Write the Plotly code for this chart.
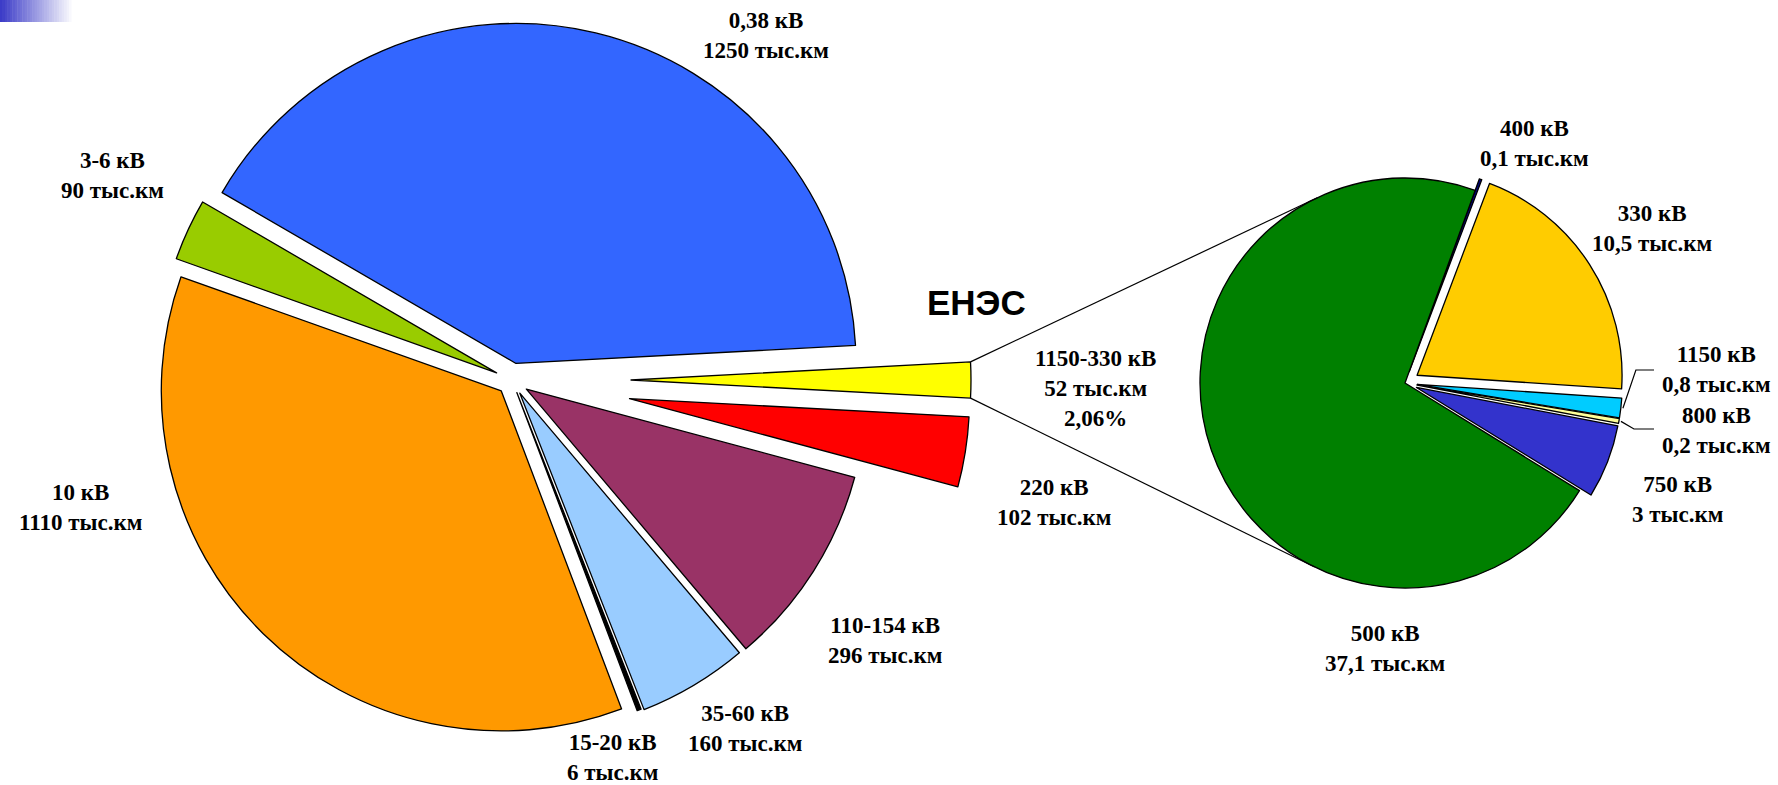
import math
import plotly.graph_objects as go

W, H = 1778, 785

# Протяжённость ЛЭП по классам напряжения, тыс. км
main_labels = ["0,38 кВ", "1150-330 кВ", "220 кВ", "110-154 кВ", "35-60 кВ", "15-20 кВ", "10 кВ", "3-6 кВ"]
main_values = [1250, 52, 102, 296, 160, 6, 1110, 90]
main_colors = ["#3366FF", "#FFFF00", "#FF0000", "#993366", "#99CCFF", "#000000", "#FF9900", "#99CC00"]
main_pull = [0.05, 0.35, 0.35, 0.05, 0.045, 0.04, 0.045, 0.05]

# Состав ЕНЭС (1150-330 кВ), тыс. км
enes_labels = ["400 кВ", "330 кВ", "1150 кВ", "800 кВ", "750 кВ", "500 кВ"]
enes_values = [0.1, 10.5, 0.8, 0.2, 3, 37.1]
enes_colors = ["#000080", "#FFCC00", "#00CCFF", "#FFFF99", "#3333CC", "#008000"]
enes_pull = [0.06, 0.07, 0.06, 0.06, 0.06, 0.0]
enes_share = "2,06%"

# ---- layout geometry (pixels) ----
MAIN_C, MAIN_R = (512, 380), 340
ENES_C, ENES_R = (1405, 383), 205
ENES_ROT = 20
ENES_IDX = 1  # slice of the main pie detailed by the second pie

label_pos = {
    "0,38 кВ": (766, 36), "1150-330 кВ": (1095, 388), "220 кВ": (1054, 502),
    "110-154 кВ": (885, 640), "35-60 кВ": (745, 728), "15-20 кВ": (612, 757),
    "10 кВ": (80, 507), "3-6 кВ": (112, 176),
    "400 кВ": (1534, 144), "330 кВ": (1652, 229), "1150 кВ": (1716, 369),
    "800 кВ": (1716, 430), "750 кВ": (1677, 499), "500 кВ": (1385, 648),
}
leader_labels = {"1150 кВ": 370, "800 кВ": 429}
LEADER_END_X = 1654

LABEL_FONT = dict(family="Liberation Serif", size=23, color="black", weight="bold")


def fmt(v):
    return f"{v:g}".replace(".", ",")


def polar(cx, cy, r, ang):
    a = math.radians(ang)
    return cx + r * math.sin(a), cy - r * math.cos(a)


def spans(values, rotation):
    tot = sum(values)
    a = rotation
    out = []
    for v in values:
        s = v / tot * 360.0
        out.append((a, a + s))
        a += s
    return out


def exploded_pie(fig, labels, values, colors, pulls, center, r, rotation):
    """One pie trace per slice, each trace's domain shifted along the slice bisector."""
    cx, cy = center
    centers = []
    for i, (a0, a1) in enumerate(spans(values, rotation)):
        sx, sy = polar(cx, cy, pulls[i] * r, (a0 + a1) / 2)
        centers.append((sx, sy))
        fill = ["rgba(0,0,0,0)"] * len(values)
        fill[i] = colors[i]
        widths = [0] * len(values)
        widths[i] = 1.3
        fig.add_trace(go.Pie(
            labels=labels, values=values, sort=False, direction="clockwise",
            rotation=rotation,
            marker=dict(colors=fill, line=dict(color="black", width=widths)),
            textinfo="none", hoverinfo="label+value", showlegend=False,
            domain=dict(x=[(sx - r) / W, (sx + r) / W],
                        y=[1 - (sy + r) / H, 1 - (sy - r) / H]),
        ))
    return centers


def tangent(p, c, r, upper):
    dx, dy = p[0] - c[0], p[1] - c[1]
    d = math.hypot(dx, dy)
    base = math.atan2(dy, dx)
    alpha = math.acos(r / d)
    cands = [(c[0] + r * math.cos(base + s * alpha), c[1] + r * math.sin(base + s * alpha))
             for s in (1, -1)]
    return min(cands, key=lambda q: q[1]) if upper else max(cands, key=lambda q: q[1])


def xp(x):
    return x / W


def yp(y):
    return 1 - y / H


fig = go.Figure()

tot_main = sum(main_values)
main_rot = 90 - (sum(main_values[:ENES_IDX]) + main_values[ENES_IDX] / 2) / tot_main * 360
main_rot = (main_rot + 180) % 360 - 180

main_centers = exploded_pie(fig, main_labels, main_values, main_colors, main_pull,
                            MAIN_C, MAIN_R, main_rot)
enes_centers = exploded_pie(fig, enes_labels, enes_values, enes_colors, enes_pull,
                            ENES_C, ENES_R, ENES_ROT)

shapes = []

# connector lines from the ЕНЭС slice to the second pie
ya0, ya1 = spans(main_values, main_rot)[ENES_IDX]
yc = main_centers[ENES_IDX]
top_corner = polar(yc[0], yc[1], MAIN_R, ya0)
bot_corner = polar(yc[0], yc[1], MAIN_R, ya1)
t_top = tangent(top_corner, ENES_C, ENES_R, upper=True)
t_bot = tangent(bot_corner, ENES_C, ENES_R, upper=False)
for a, b in ((top_corner, t_top), (bot_corner, t_bot)):
    shapes.append(dict(type="line", xref="paper", yref="paper",
                       x0=xp(a[0]), y0=yp(a[1]), x1=xp(b[0]), y1=yp(b[1]),
                       line=dict(color="black", width=1.2)))

# leader lines for the two thin slices
enes_spans = spans(enes_values, ENES_ROT)
for lab, gap_y in leader_labels.items():
    i = enes_labels.index(lab)
    a0, a1 = enes_spans[i]
    sc = enes_centers[i]
    sx, sy = polar(sc[0], sc[1], ENES_R * 1.01, (a0 + a1) / 2)
    ex = sx + 13
    path = (f"M {xp(sx)} {yp(sy)} L {xp(ex)} {yp(gap_y)} "
            f"L {xp(LEADER_END_X)} {yp(gap_y)}")
    shapes.append(dict(type="path", xref="paper", yref="paper", path=path,
                       line=dict(color="black", width=1.2)))

# slide corner accent
n_strips = 30
for k in range(n_strips):
    t = k / (n_strips - 1)
    r_ = int(60 + (255 - 60) * t)
    g_ = int(60 + (255 - 60) * t)
    b_ = int(200 + (255 - 200) * t)
    x0 = 74 * k / n_strips
    x1 = 74 * (k + 1) / n_strips + 0.5
    shapes.append(dict(type="rect", xref="paper", yref="paper", layer="below",
                       x0=xp(x0), x1=xp(x1), y0=yp(22), y1=yp(0),
                       line=dict(width=0), fillcolor=f"rgb({r_},{g_},{b_})"))

annotations = []
for lab, val in zip(main_labels, main_values):
    text = f"{lab}<br>{fmt(val)} тыс.км"
    if lab == main_labels[ENES_IDX]:
        text += f"<br>{enes_share}"
    x, y = label_pos[lab]
    annotations.append(dict(x=xp(x), y=yp(y), xref="paper", yref="paper", text=text,
                            showarrow=False, xanchor="center", yanchor="middle",
                            align="center", font=LABEL_FONT))
for lab, val in zip(enes_labels, enes_values):
    x, y = label_pos[lab]
    annotations.append(dict(x=xp(x), y=yp(y), xref="paper", yref="paper",
                            text=f"{lab}<br>{fmt(val)} тыс.км",
                            showarrow=False, xanchor="center", yanchor="middle",
                            align="center", font=LABEL_FONT))

annotations.append(dict(x=xp(976), y=yp(302), xref="paper", yref="paper", text="ЕНЭС",
                        showarrow=False, xanchor="center", yanchor="middle",
                        font=dict(family="Liberation Sans", size=35, color="black",
                                  weight="bold")))

fig.update_layout(
    width=W, height=H,
    margin=dict(l=0, r=0, t=0, b=0),
    paper_bgcolor="white", plot_bgcolor="white",
    showlegend=False,
    shapes=shapes, annotations=annotations,
)

fig.write_html("out.html")
